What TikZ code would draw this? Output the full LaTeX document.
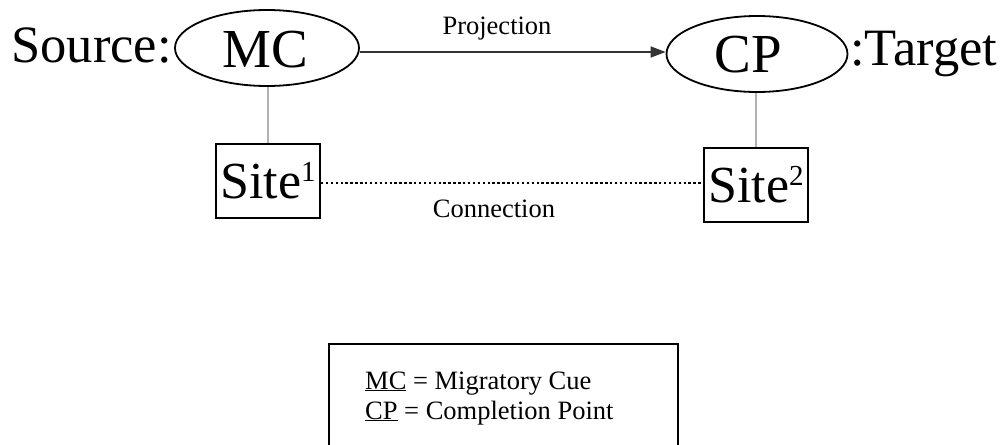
\documentclass[tikz,border=0pt]{standalone}
\usepackage{fontspec}
\setmainfont{Liberation Serif}
\usetikzlibrary{arrows.meta,shapes.geometric}
\newcommand{\supnum}[1]{\raisebox{17pt}{\fontsize{29}{29}\selectfont #1}}
\tikzset{
  big/.style={font=\fontsize{52.5}{52}\selectfont, inner sep=0pt},
  small/.style={font=\fontsize{26.5}{30}\selectfont, inner sep=0pt},
  cue/.style={ellipse, draw=black, line width=1.8pt, inner sep=0pt},
  cuetext/.style={font=\fontsize{55}{55}\selectfont, inner sep=0pt},
  sitebox/.style={rectangle, draw=black, line width=1.8pt, inner sep=0pt,
              minimum width=104pt, minimum height=74pt,
              font=\fontsize{52}{52}\selectfont},
  stem/.style={draw=gray!60, line width=2.6pt},
  proj/.style={draw=black!80, line width=1.7pt, -{Triangle[length=15pt,width=11pt]}},
  link/.style={draw=black, line width=2.4pt, dash pattern=on 2.4pt off 2.5pt},
}
\begin{document}
\begin{tikzpicture}[x=1pt,y=-1pt]
\useasboundingbox (0,0) rectangle (1003,444);
\clip (0,0) rectangle (1003,444);
\fill[white] (0,0) rectangle (1003,444);

% the two cue ellipses
\node[cue, minimum width=184pt, minimum height=76pt] (mc) at (267,48) {};
\node[cue, minimum width=181pt, minimum height=76pt] (cp) at (757,54) {};
\node[cuetext, anchor=base] (mct) at (265,67) {MC};
\node[cuetext, anchor=base] (cpt) at (748,73) {CP};
\node[big, anchor=base east] (src) at (172,63) {Source:};
\node[big, anchor=base west] (tgt) at (850,65) {:Target};

% projection arrow
\coordinate (ay) at (0,52);
\draw[proj] (mc.east |- ay) -- (cp.west |- ay);
\node[small, anchor=base] (projlbl) at (497,35) {Projection};

% sites below the ellipses
\node[sitebox] (s1) at (268,181) {Site\supnum{1}};
\node[sitebox] (s2) at (756,185) {Site\supnum{2}};
\draw[stem] (s1.north |- mc.south) -- (s1.north);
\draw[stem] (s2.north |- cp.south) -- (s2.north);

% dotted connection between the sites
\coordinate (cy) at (0,183);
\draw[link] (s1.east |- cy) -- (s2.west |- cy);
\node[small, anchor=base] (conlbl) at (494,217) {Connection};

% legend
\node[draw=black, line width=1.8pt, rectangle, anchor=north west,
      minimum width=349pt, minimum height=140pt, inner sep=0pt] (legend) at (328,343) {};
\node[small, anchor=base west] (leg1) at (365,389) {\underline{MC} = Migratory Cue};
\node[small, anchor=base west] (leg2) at (365,419) {\underline{CP} = Completion Point};
\end{tikzpicture}
\end{document}
